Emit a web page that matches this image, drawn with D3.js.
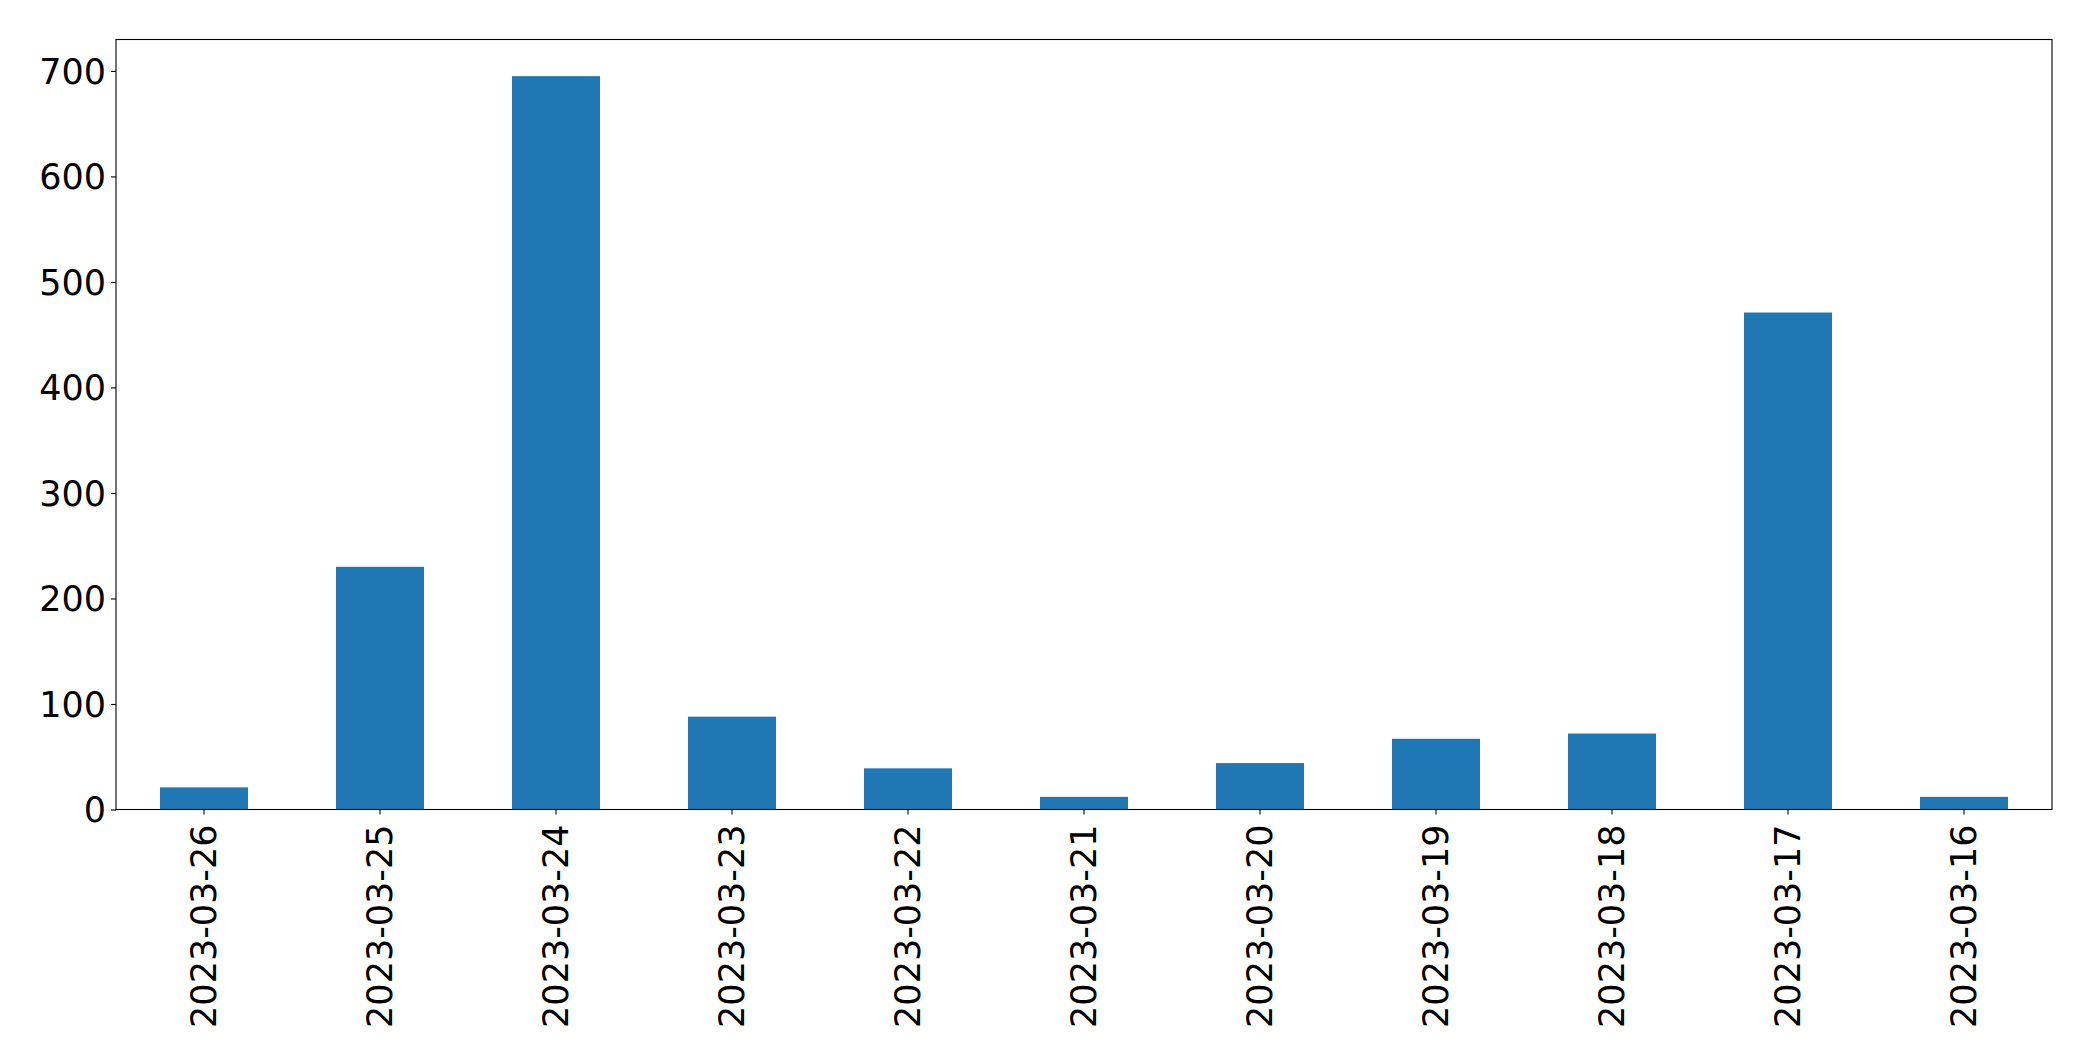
<!DOCTYPE html>
<html>
<head>
<meta charset="utf-8">
<script src="https://cdn.jsdelivr.net/npm/d3@7"></script>
<style>
  html, body { margin: 0; padding: 0; background: #fff; }
  svg { display: block; }
  text { font-family: "DejaVu Sans", sans-serif; }
</style>
</head>
<body>
<svg id="chart" width="2093" height="1061"></svg>
<script>
const categories = ["2023-03-26","2023-03-25","2023-03-24","2023-03-23","2023-03-22","2023-03-21","2023-03-20","2023-03-19","2023-03-18","2023-03-17","2023-03-16"];
const values = [21, 230, 695, 88, 39, 12, 44, 67, 72, 471, 12];
const yTicks = [0, 100, 200, 300, 400, 500, 600, 700];

const W = 2093, H = 1061;
const margin = { left: 116, right: W - 2052, top: 39.5, bottom: H - 809.5 };
const iw = W - margin.left - margin.right;
const ih = H - margin.top - margin.bottom;

const svg = d3.select("#chart");
const g = svg.append("g").attr("transform", `translate(${margin.left},${margin.top})`);

const x = d3.scaleBand().domain(categories).range([0, iw]).paddingInner(0.5).paddingOuter(0.25);
const y = d3.scaleLinear().domain([0, d3.max(values) * 1.05]).range([ih, 0]);

g.selectAll("rect.bar").data(values).join("rect")
  .attr("class", "bar")
  .attr("x", (d, i) => x(categories[i]))
  .attr("width", x.bandwidth())
  .attr("y", d => y(d))
  .attr("height", d => y(0) - y(d))
  .attr("fill", "#1f77b4");

const fs = 35;
const yAxis = g.append("g").call(d3.axisLeft(y).tickValues(yTicks).tickSize(5).tickPadding(5).tickFormat(d3.format("d")));
yAxis.select(".domain").remove();
yAxis.selectAll("line").attr("stroke", "#000").attr("stroke-width", 1.1);
yAxis.selectAll("text").attr("font-size", fs).attr("fill", "#000").attr("dy", "0.35em");

const xAxis = g.append("g").attr("transform", `translate(0,${ih})`).call(d3.axisBottom(x).tickSize(5).tickPadding(0));
xAxis.select(".domain").remove();
xAxis.selectAll("line").attr("stroke", "#000").attr("stroke-width", 1.1);
xAxis.selectAll("text")
  .attr("font-size", fs).attr("fill", "#000")
  .attr("text-anchor", "end")
  .attr("transform", "translate(0,15) rotate(-90)")
  .attr("x", 0).attr("y", 0).attr("dy", "0.35em");

g.append("rect").attr("x", 0).attr("y", 0).attr("width", iw).attr("height", ih)
  .attr("fill", "none").attr("stroke", "#000").attr("stroke-width", 1.1);
</script>
</body>
</html>
